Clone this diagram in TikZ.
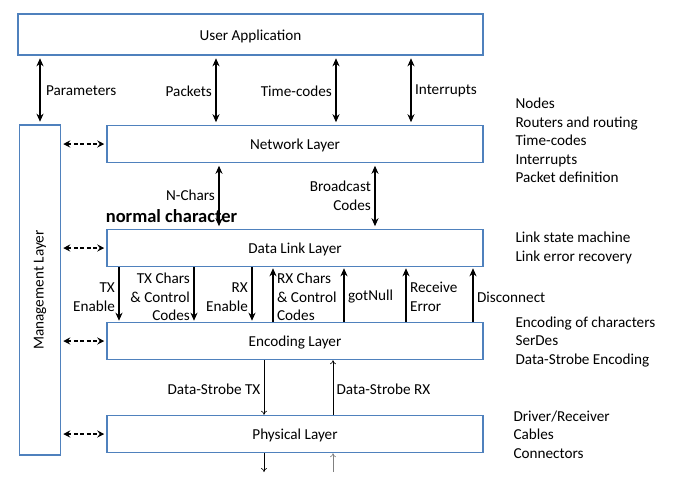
\documentclass[tikz,border=0pt]{standalone}
\usepackage{fontspec}
\setmainfont{Carlito}
\usepackage{xcolor}
\usetikzlibrary{positioning}
\usetikzlibrary{arrows.meta}
\definecolor{boxblue}{RGB}{79,129,189}

\begin{document}
\begin{tikzpicture}[x=1pt,y=-1pt,
   every node/.style={font=\fontsize{15.2}{18.5}\selectfont},
   layer/.style={draw=boxblue, line width=1.5pt, minimum width=376pt, minimum height=37pt, inner sep=0pt, text height=13pt, text depth=2pt},
   bi/.style={{Stealth[length=8pt,width=7pt,inset=2.5pt]}-{Stealth[length=8pt,width=7pt,inset=2.5pt]}, line width=1.6pt, shorten <=2.5pt, shorten >=2.5pt},
   down/.style={-{Stealth[length=8pt,width=7pt,inset=2.5pt]}, line width=1.6pt, shorten >=1pt},
   up/.style={{Stealth[length=8pt,width=7pt,inset=2.5pt]}-, line width=1.6pt, shorten <=1pt},
   dashbi/.style={{Stealth[length=7pt,width=7pt,inset=2.5pt]}-{Stealth[length=7pt,width=7pt,inset=2.5pt]}, line width=1.6pt, dash pattern=on 4pt off 2.5pt, shorten <=2pt, shorten >=2pt},
   thinarrow/.style={-{To[length=4pt,width=6pt]}, line width=0.6pt},
   lowlabel/.style={yshift=-2.5pt}]
   \useasboundingbox (0,0) rectangle (674,483);

   % layers
   \node[layer, minimum width=465pt, minimum height=41pt] (ua) at (250.5,34.5) {User Application};
   \node[layer, rotate=90, minimum width=330pt, minimum height=41pt, text height=10.5pt, text depth=3.5pt] (ml) at (40,290) {Management Layer};
   \node[layer] (net) at (295,144) {Network Layer};
   \node[layer] (dll) at (295,248) {Data Link Layer};
   \node[layer] (enc) at (295,341) {Encoding Layer};
   \node[layer] (phy) at (295,434) {Physical Layer};

   \foreach \x/\n in {216/pk, 336/tc, 411/ir, 219/nc, 375/bc, 119/txe, 194/txc, 252/rxe,
      273/rxc, 344/gn, 406/re, 473/dc, 264/dtx, 333/drx}
      \coordinate (\n) at (\x,0);
   \coordinate (dtxout) at (264,472);
   \coordinate (drxin) at (333,472);

   % user application <-> network layer
   \draw[bi] (ua.south -| ml.east) -- node[right, xshift=2pt, yshift=-1pt] {Parameters} (ml.east);
   \draw[bi] (ua.south -| pk) -- node[left, yshift=-1pt] {Packets} (net.north -| pk);
   \draw[bi] (ua.south -| tc) -- node[left, yshift=-1pt] {Time-codes} (net.north -| tc);
   \draw[bi] (ua.south -| ir) -- node[right, yshift=-1pt] {Interrupts} (net.north -| ir);

   % management
   \foreach \l in {net, dll, enc, phy}
      \draw[dashbi] (\l.west -| ml.south) -- (\l.west);

   % network layer <-> data link layer
   \draw[bi] (net.south -| nc) -- node[left, yshift=1pt] {N-Chars} (dll.north -| nc);
   \draw[bi] (net.south -| bc) -- node[left, align=right] {Broadcast\\Codes} (dll.north -| bc);
   \node[font=\bfseries\fontsize{18.5}{22}\selectfont] (nchar) at (171.5,216) {normal character};

   % data link layer <-> encoding layer
   \draw[down] (dll.south -| txe) -- node[left, align=right, lowlabel] {TX\\Enable} (enc.north -| txe);
   \draw[down] (dll.south -| txc) -- node[left, align=right, lowlabel] {TX Chars\\\& Control\\Codes} (enc.north -| txc);
   \draw[down] (dll.south -| rxe) -- node[left, align=right, lowlabel] {RX\\Enable} (enc.north -| rxe);
   \draw[up] (dll.south -| rxc) -- node[right, align=left, lowlabel] {RX Chars\\\& Control\\Codes} (enc.north -| rxc);
   \draw[up] (dll.south -| gn) -- node[right, lowlabel] {gotNull} (enc.north -| gn);
   \draw[up] (dll.south -| re) -- node[right, align=left, lowlabel] {Receive\\Error} (enc.north -| re);
   \draw[up] (dll.south -| dc) -- node[right, lowlabel] {Disconnect} (enc.north -| dc);

   % encoding layer <-> physical layer
   \draw[thinarrow] (enc.south -| dtx) -- node[left, yshift=-1.5pt] {Data-Strobe TX} (phy.north -| dtx);
   \draw[thinarrow] (phy.north -| drx) -- node[right, yshift=-1.5pt] {Data-Strobe RX} (enc.south -| drx);
   \draw[thinarrow] (phy.south -| dtx) -- (dtxout);
   \draw[thinarrow, gray] (drxin) -- (phy.south -| drx);

   % functions of each layer
   \node[anchor=west, align=left] (netfn) at (512,140.5) {Nodes\\Routers and routing\\Time-codes\\Interrupts\\Packet definition};
   \node[anchor=west, align=left] (dllfn) at (512,248) {Link state machine\\Link error recovery};
   \node[anchor=west, align=left] (encfn) at (512,342) {Encoding of characters\\SerDes\\Data-Strobe Encoding};
   \node[anchor=west, align=left] (phyfn) at (510,434.5) {Driver/Receiver\\Cables\\Connectors};
\end{tikzpicture}
\end{document}
